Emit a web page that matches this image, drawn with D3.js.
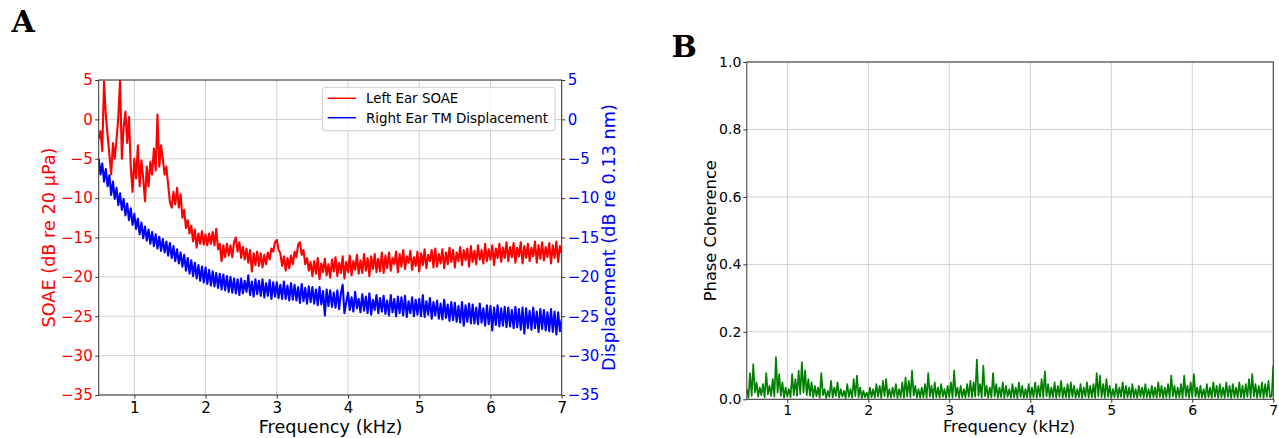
<!DOCTYPE html>
<html><head><meta charset="utf-8">
<script src="https://cdn.jsdelivr.net/npm/d3@7"></script>
<style>
body{margin:0;background:#fff}
svg{display:block}
</style>
</head><body>
<svg id="c" width="1279" height="438"></svg>
<script>
// ---------- data ----------
const freqTicks = [1, 2, 3, 4, 5, 6, 7];
const soaeTicks = [5, 0, -5, -10, -15, -20, -25, -30, -35];
const dispTicks = [5, 0, -5, -10, -15, -20, -25, -30, -35];
const cohTicks = [0, 0.2, 0.4, 0.6, 0.8, 1.0];
const freqRange = [0.5, 7];

// Left ear SOAE (dB re 20 uPa), sampled every 0.025 kHz from 0.5 to 7 kHz
const soae = [
-2.5,-1.5,-4.0,4.8,0.5,-2.0,-4.5,-7.0,-3.0,-5.0,
-2.5,0.2,5.0,-5.0,-1.0,1.0,-3.0,0.3,-6.0,-9.2,
-5.0,-7.5,-3.3,-8.5,-5.2,-7.5,-10.4,-6.0,-8.5,-5.4,
-7.0,-3.7,-6.5,0.6,-6.0,-3.3,-5.0,-7.0,-6.0,-8.3,
-10.5,-11.2,-9.2,-10.8,-8.7,-11.2,-9.5,-12.5,-11.5,-13.8,
-12.8,-14.5,-13.5,-15.5,-14.0,-16.3,-14.5,-15.8,-14.2,-15.9,
-14.6,-16.0,-14.5,-15.8,-14.3,-16.0,-13.9,-16.5,-15.8,-18.0,
-16.0,-17.5,-15.8,-17.3,-16.0,-17.5,-15.6,-15.0,-16.8,-15.6,
-17.6,-16.2,-17.8,-16.4,-18.2,-16.6,-19.3,-17.0,-18.5,-16.8,
-18.6,-17.0,-18.8,-17.2,-18.4,-16.9,-17.8,-16.4,-16.8,-15.6,
-15.3,-16.6,-17.0,-18.6,-17.4,-19.2,-17.6,-18.9,-17.3,-18.4,
-16.8,-17.5,-15.9,-15.6,-17.2,-16.6,-18.4,-17.6,-19.2,-18.1,
-19.9,-18.0,-19.6,-17.6,-20.3,-18.3,-19.4,-17.7,-19.8,-18.4,
-20.1,-17.8,-19.3,-17.5,-19.9,-18.2,-19.5,-17.4,-20.2,-18.1,
-19.4,-17.3,-19.8,-18.0,-19.1,-17.2,-19.6,-17.9,-19.5,-17.1,
-19.2,-17.6,-19.9,-17.4,-19.0,-17.1,-19.4,-17.7,-19.3,-16.9,
-19.5,-17.3,-18.9,-16.9,-19.2,-17.6,-18.4,-16.8,-19.4,-17.1,
-18.7,-16.6,-19.0,-17.4,-18.2,-16.7,-19.1,-17.5,-18.6,-16.8,
-19.3,-17.0,-18.5,-16.5,-18.9,-17.2,-18.0,-16.6,-18.8,-16.4,
-18.7,-17.1,-18.3,-16.5,-18.9,-16.9,-18.4,-16.3,-18.1,-16.6,
-18.8,-16.9,-18.0,-16.2,-18.5,-16.6,-17.9,-16.4,-18.7,-16.1,
-18.1,-16.7,-18.4,-16.0,-17.8,-16.6,-18.3,-15.8,-18.0,-16.5,
-17.8,-16.0,-18.5,-16.4,-17.6,-15.8,-18.1,-16.3,-17.6,-15.6,
-18.0,-16.2,-17.5,-15.7,-18.2,-16.3,-17.4,-15.6,-18.3,-16.1,
-17.6,-15.8,-18.0,-16.3,-17.4,-15.5,-18.2,-16.0,-17.7,-15.6,
-17.9,-16.2,-17.5,-15.7,-18.3,-16.0,-17.6,-15.5,-18.1,-16.1,
-17.0];

// Right ear TM displacement (dB re 0.13 nm), same sampling
const disp = [
-5.0,-7.0,-5.6,-7.9,-6.3,-8.5,-7.1,-9.6,-7.9,-10.1,
-8.7,-10.9,-9.4,-11.5,-10.1,-12.2,-10.7,-12.8,-11.3,-13.4,
-12.0,-13.9,-12.6,-14.6,-13.1,-15.1,-13.6,-15.4,-14.0,-15.8,
-14.3,-16.1,-14.6,-16.4,-14.9,-16.7,-15.2,-16.9,-15.5,-17.3,
-15.7,-17.6,-16.1,-18.0,-16.5,-18.3,-16.9,-18.7,-17.2,-19.2,
-17.6,-19.6,-17.9,-19.9,-18.2,-20.2,-18.5,-20.5,-18.7,-20.7,
-18.8,-20.9,-19.1,-21.1,-19.3,-21.2,-19.5,-21.4,-19.6,-21.6,
-19.7,-21.7,-19.9,-21.9,-20.0,-22.0,-20.2,-22.1,-20.3,-22.3,
-20.2,-22.1,-20.5,-21.9,-19.8,-22.3,-20.6,-22.5,-20.3,-22.2,
-20.5,-22.4,-20.3,-22.6,-20.8,-22.4,-20.4,-22.8,-20.7,-22.5,
-20.7,-22.7,-21.0,-22.8,-20.6,-22.8,-21.1,-23.0,-20.8,-22.9,
-21.0,-23.0,-21.3,-23.3,-20.9,-23.1,-21.4,-23.4,-21.2,-23.2,
-21.3,-23.4,-21.6,-23.6,-21.3,-23.5,-21.8,-24.9,-21.6,-23.7,
-21.7,-23.8,-22.0,-23.9,-21.7,-24.1,-22.1,-21.0,-24.6,-23.2,
-22.0,-24.2,-22.6,-24.4,-21.9,-24.0,-22.8,-24.5,-22.2,-24.3,
-22.5,-24.6,-22.1,-24.8,-22.9,-24.2,-22.3,-24.6,-22.7,-24.4,
-22.4,-24.7,-23.0,-24.9,-22.3,-24.5,-22.8,-25.0,-22.5,-24.6,
-22.6,-24.9,-22.4,-25.1,-23.1,-24.6,-22.6,-25.0,-22.9,-24.8,
-22.8,-25.0,-22.3,-25.1,-23.1,-24.8,-22.7,-25.3,-23.2,-24.9,
-23.0,-25.3,-23.4,-25.4,-22.9,-25.2,-23.5,-25.6,-23.2,-25.5,
-23.3,-25.7,-23.7,-25.8,-23.2,-26.2,-23.6,-25.7,-23.4,-25.9,
-23.5,-25.9,-23.9,-26.0,-23.4,-25.8,-24.0,-26.2,-23.6,-26.0,
-23.7,-26.8,-23.9,-26.1,-23.6,-26.3,-24.0,-26.2,-23.8,-26.4,
-23.9,-26.3,-24.2,-26.5,-23.8,-26.4,-24.1,-26.7,-23.9,-27.2,
-24.0,-26.5,-24.3,-26.7,-23.9,-26.5,-24.4,-27.0,-24.1,-26.6,
-24.2,-26.8,-24.5,-26.9,-24.1,-27.0,-24.4,-27.3,-24.5,-26.9,
-25.4];

// Phase coherence, sampled every 0.02 kHz from 0.5 to 7 kHz
const coh = [
0.03,0.005,0.078,0.01,0.104,0.02,0.05,0.008,0.035,0.012,0.045,0.006,0.078,0.015,0.04,0.01,0.06,0.008,0.125,0.02,0.075,0.01,0.05,0.005,0.035,0.008,
0.03,0.006,0.075,0.012,0.06,0.01,0.085,0.015,0.11,0.02,0.085,0.012,0.06,0.01,0.05,0.006,0.04,0.009,0.035,0.005,0.078,0.012,0.03,0.004,
0.025,0.007,0.055,0.006,0.035,0.01,0.05,0.005,0.03,0.008,0.025,0.004,0.045,0.007,0.03,0.005,0.06,0.009,0.07,0.006,0.035,0.004,0.025,0.006,0.02,0.003,
0.035,0.006,0.03,0.005,0.045,0.008,0.04,0.004,0.055,0.009,0.06,0.006,0.03,0.005,0.035,0.007,0.045,0.004,0.03,0.006,0.05,0.005,0.065,0.008,
0.055,0.006,0.085,0.01,0.04,0.005,0.03,0.004,0.035,0.006,0.045,0.005,0.078,0.008,0.04,0.004,0.05,0.006,0.035,0.005,0.045,0.007,0.03,0.004,0.04,0.006,
0.05,0.005,0.085,0.008,0.035,0.004,0.04,0.006,0.03,0.005,0.045,0.007,0.055,0.006,0.05,0.008,0.118,0.01,0.045,0.006,0.1,0.009,0.04,0.005,
0.035,0.006,0.078,0.008,0.045,0.005,0.035,0.006,0.05,0.004,0.04,0.007,0.03,0.005,0.045,0.006,0.035,0.004,0.05,0.007,0.04,0.005,0.03,0.006,0.045,0.004,
0.035,0.006,0.05,0.005,0.04,0.007,0.06,0.006,0.083,0.009,0.045,0.005,0.035,0.006,0.05,0.004,0.04,0.007,0.055,0.005,0.035,0.006,0.045,0.004,
0.05,0.007,0.04,0.005,0.03,0.006,0.045,0.004,0.035,0.007,0.05,0.005,0.04,0.006,0.045,0.005,0.078,0.008,0.07,0.006,0.045,0.005,0.06,0.007,0.04,0.004,
0.03,0.006,0.045,0.005,0.035,0.007,0.05,0.004,0.04,0.006,0.035,0.005,0.045,0.006,0.03,0.004,0.04,0.007,0.035,0.005,0.045,0.006,0.03,0.004,
0.04,0.006,0.035,0.005,0.05,0.007,0.04,0.004,0.035,0.006,0.045,0.005,0.07,0.008,0.04,0.005,0.035,0.006,0.045,0.004,0.07,0.008,0.04,0.005,0.05,0.006,
0.075,0.008,0.035,0.005,0.04,0.006,0.03,0.004,0.045,0.006,0.035,0.005,0.05,0.007,0.04,0.004,0.045,0.006,0.035,0.005,0.05,0.007,0.04,0.004,
0.045,0.006,0.035,0.005,0.05,0.006,0.04,0.004,0.045,0.007,0.06,0.005,0.075,0.008,0.045,0.005,0.04,0.006,0.05,0.004,0.045,0.007,0.055,0.006,0.01,0.1];

// ---------- drawing ----------
const svg = d3.select("#c");
const AX = "#333";
const GRID = "#d0d0d0";
const SANS = "DejaVu Sans";
const SERIF = "'DejaVu Serif', 'Liberation Serif', serif";

function freqOf(arr) {
  const step = (freqRange[1] - freqRange[0]) / (arr.length - 1);
  return arr.map((v, i) => ({f: freqRange[0] + i * step, v}));
}

function styleAxis(g, color, fs) {
  g.select(".domain").remove();
  g.selectAll(".tick line").attr("stroke", AX).attr("stroke-width", 1);
  g.selectAll(".tick text").attr("fill", color).attr("font-size", fs)
    .attr("font-family", SANS);
}

// ===== Panel A =====
const xA = d3.scaleLinear(freqRange, [98.7, 561.7]);
const yA = d3.scaleLinear([-35, 5], [395, 80]);
const yA2 = d3.scaleLinear([-35, 5], [395, 80]);

const gA = svg.append("g");
gA.append("g").selectAll("line").data(freqTicks).join("line")
  .attr("x1", d => xA(d)).attr("x2", d => xA(d)).attr("y1", 80).attr("y2", 395)
  .attr("stroke", GRID).attr("stroke-width", 1);
gA.append("g").selectAll("line").data(soaeTicks).join("line")
  .attr("y1", d => yA(d)).attr("y2", d => yA(d)).attr("x1", 98.7).attr("x2", 561.7)
  .attr("stroke", GRID).attr("stroke-width", 1);

svg.append("clipPath").attr("id", "clipA").append("rect")
  .attr("x", 98.7).attr("y", 80).attr("width", 463).attr("height", 315);

const lineA = d3.line().x(d => xA(d.f)).y(d => yA(d.v));
const lineA2 = d3.line().x(d => xA(d.f)).y(d => yA2(d.v));
gA.append("path").datum(freqOf(soae)).attr("d", lineA)
  .attr("fill", "none").attr("stroke", "#ff0000").attr("stroke-width", 2.1)
  .attr("stroke-linejoin", "round").attr("clip-path", "url(#clipA)");
gA.append("path").datum(freqOf(disp)).attr("d", lineA2)
  .attr("fill", "none").attr("stroke", "#0000ff").attr("stroke-width", 2.1)
  .attr("stroke-linejoin", "round").attr("clip-path", "url(#clipA)");

const axBA = gA.append("g").attr("transform", "translate(0,395)")
  .call(d3.axisBottom(xA).tickValues(freqTicks).tickFormat(d3.format("d")).tickSize(3.5).tickPadding(3.5));
styleAxis(axBA, "#000", 15);
const axLA = gA.append("g").attr("transform", "translate(98.7,0)")
  .call(d3.axisLeft(yA).tickValues(soaeTicks).tickFormat(d3.format("d")).tickSize(3.5).tickPadding(2.5));
styleAxis(axLA, "#ff0000", 15);
const axRA = gA.append("g").attr("transform", "translate(561.7,0)")
  .call(d3.axisRight(yA2).tickValues(dispTicks).tickFormat(d3.format("d")).tickSize(3.5).tickPadding(2.5));
styleAxis(axRA, "#0000ff", 15);

gA.append("rect").attr("x", 98.7).attr("y", 80).attr("width", 463).attr("height", 315)
  .attr("fill", "none").attr("stroke", AX).attr("stroke-width", 1);

// legend
const leg = gA.append("g");
leg.append("rect").attr("x", 322.3).attr("y", 87.3).attr("width", 232.7).attr("height", 43.4)
  .attr("rx", 3).attr("fill", "#fff").attr("fill-opacity", 0.8).attr("stroke", "#cccccc");
const legItems = [{label: "Left Ear SOAE", color: "#ff0000", y: 98.3},
                  {label: "Right Ear TM Displacement", color: "#0000ff", y: 117.7}];
legItems.forEach(it => {
  leg.append("line").attr("x1", 327.7).attr("x2", 356).attr("y1", it.y).attr("y2", it.y)
    .attr("stroke", it.color).attr("stroke-width", 1.5);
  leg.append("text").attr("x", 366).attr("y", it.y + 4.8).attr("font-size", 13.4)
    .attr("font-family", SANS).attr("fill", "#000").text(it.label);
});

// labels
svg.append("text").attr("x", 330.5).attr("y", 433).attr("text-anchor", "middle")
  .attr("font-family", SANS).attr("font-size", 17.7).attr("fill", "#000").text("Frequency (kHz)");
svg.append("text").attr("transform", "translate(54.6,237.5) rotate(-90)")
  .attr("text-anchor", "middle").attr("font-family", SANS).attr("font-size", 17.7).attr("fill", "#ff0000")
  .text("SOAE (dB re 20 µPa)");
svg.append("text").attr("transform", "translate(615,237.5) rotate(-90)")
  .attr("text-anchor", "middle").attr("font-family", SANS).attr("font-size", 17.7).attr("fill", "#0000ff")
  .text("Displacement (dB re 0.13 nm)");
svg.append("text").attr("x", 11.5).attr("y", 31.7).attr("font-size", 30)
  .attr("font-family", SERIF).attr("font-weight", "bold").attr("fill", "#000").text("A");

// ===== Panel B =====
const xB = d3.scaleLinear(freqRange, [746.8, 1273.3]);
const yB = d3.scaleLinear([0, 1], [399.3, 62]);
const gB = svg.append("g");
gB.append("g").selectAll("line").data(freqTicks).join("line")
  .attr("x1", d => xB(d)).attr("x2", d => xB(d)).attr("y1", 62).attr("y2", 399.3)
  .attr("stroke", GRID).attr("stroke-width", 1);
gB.append("g").selectAll("line").data(cohTicks).join("line")
  .attr("y1", d => yB(d)).attr("y2", d => yB(d)).attr("x1", 746.8).attr("x2", 1273.3)
  .attr("stroke", GRID).attr("stroke-width", 1);

svg.append("clipPath").attr("id", "clipB").append("rect")
  .attr("x", 746.8).attr("y", 62).attr("width", 526.5).attr("height", 337.3);
gB.append("path").datum(freqOf(coh))
  .attr("d", d3.line().x(d => xB(d.f)).y(d => yB(d.v)))
  .attr("fill", "none").attr("stroke", "#008000").attr("stroke-width", 1.7)
  .attr("stroke-linejoin", "round").attr("clip-path", "url(#clipB)");

const axBB = gB.append("g").attr("transform", "translate(0,399.3)")
  .call(d3.axisBottom(xB).tickValues(freqTicks).tickFormat(d3.format("d")).tickSize(3.5).tickPadding(2.3));
styleAxis(axBB, "#000", 14);
const axLB = gB.append("g").attr("transform", "translate(746.8,0)")
  .call(d3.axisLeft(yB).tickValues(cohTicks).tickFormat(d3.format(".1f")).tickSize(3.5).tickPadding(2));
styleAxis(axLB, "#000", 14);
gB.append("rect").attr("x", 746.8).attr("y", 62).attr("width", 526.5).attr("height", 337.3)
  .attr("fill", "none").attr("stroke", AX).attr("stroke-width", 1);

svg.append("text").attr("x", 1009).attr("y", 431.5).attr("text-anchor", "middle")
  .attr("font-family", SANS).attr("font-size", 16.3).attr("fill", "#000").text("Frequency (kHz)");
svg.append("text").attr("transform", "translate(715.7,230.7) rotate(-90)")
  .attr("text-anchor", "middle").attr("font-family", SANS).attr("font-size", 16.3).attr("fill", "#000")
  .text("Phase Coherence");
svg.append("text").attr("x", 671.5).attr("y", 56.7).attr("font-size", 30)
  .attr("font-family", SERIF).attr("font-weight", "bold").attr("fill", "#000").text("B");
</script>
</body></html>
